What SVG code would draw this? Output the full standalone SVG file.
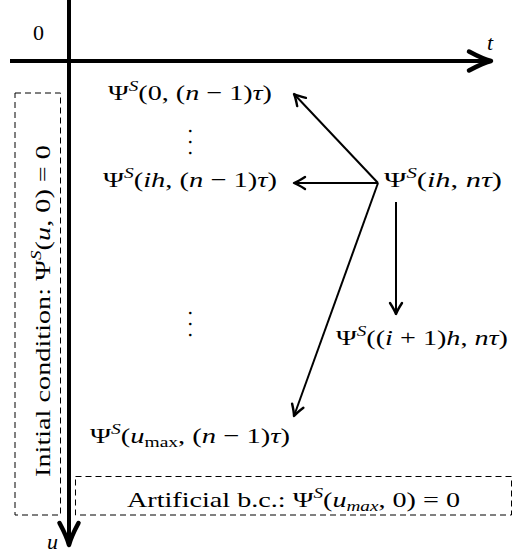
<svg xmlns="http://www.w3.org/2000/svg" width="514" height="557" viewBox="0 0 514 557">
<style>
text{font-family:"Liberation Serif","DejaVu Serif",serif;font-size:22px;fill:#000}
.i{font-style:italic}
.s{font-style:italic;font-size:15px}
.sub{font-size:15px}
.dots{letter-spacing:5.5px}
.ax{stroke:#000;stroke-width:4;fill:none}
.ar{stroke:#000;stroke-width:2;fill:none}
.box{stroke:#000;stroke-width:1;fill:none;stroke-dasharray:6 4}
</style>
<defs>
<marker id="big" markerUnits="userSpaceOnUse" viewBox="-25 -12 30 24" refX="0" refY="0" markerWidth="30" markerHeight="24" orient="auto" overflow="visible">
<path d="M-22,-9.5 Q-8,-2 0,0 Q-8,2 -22,9.5" fill="none" stroke="#000" stroke-width="4.5" stroke-linecap="round" stroke-linejoin="round"/>
</marker>
<marker id="sm" markerUnits="userSpaceOnUse" viewBox="-15 -10 20 20" refX="0" refY="0" markerWidth="20" markerHeight="20" orient="auto" overflow="visible">
<path d="M-11,-6 Q-4,-1.5 0,0 Q-4,1.5 -11,6" fill="none" stroke="#000" stroke-width="2.4" stroke-linecap="round" stroke-linejoin="round"/>
</marker>
</defs>
<g id="axes">
<line class="ax" x1="10" y1="61" x2="491" y2="61" marker-end="url(#big)"/>
<line class="ax" x1="69" y1="0" x2="69" y2="545" marker-end="url(#big)"/>
<text x="33" y="40">0</text>
<text class="i" x="487" y="50">t</text>
<text class="i" x="47" y="549">u</text>
</g>
<g id="initial-condition">
<rect class="box" x="15" y="93" width="45.5" height="422"/>
<text transform="translate(50,311) rotate(-90)" text-anchor="middle" textLength="332" lengthAdjust="spacingAndGlyphs">Initial condition: Ψ<tspan class="s" dy="-9">S</tspan><tspan dy="9">(</tspan><tspan class="i">u</tspan>, 0) = 0</text>
</g>
<g id="artificial-bc">
<rect class="box" x="75.5" y="476.5" width="436" height="38.5"/>
<text x="127" y="507" textLength="333" lengthAdjust="spacingAndGlyphs">Artificial b.c.: Ψ<tspan class="s" dy="-9">S</tspan><tspan dy="9">(</tspan><tspan class="i">u</tspan><tspan class="s" dy="4">max</tspan><tspan dy="-4">, 0) = 0</tspan></text>
</g>
<g id="node-0">
<text x="108" y="100" textLength="164" lengthAdjust="spacingAndGlyphs">Ψ<tspan class="s" dy="-9">S</tspan><tspan dy="9">(0, (</tspan><tspan class="i">n</tspan> − 1)<tspan class="i">τ</tspan>)</text>
</g>
<g id="dots-1">
<text class="dots" transform="translate(189,128.3) rotate(90)">...</text>
</g>
<g id="node-ih">
<text x="103" y="187" textLength="174" lengthAdjust="spacingAndGlyphs">Ψ<tspan class="s" dy="-9">S</tspan><tspan dy="9">(</tspan><tspan class="i">ih</tspan>, (<tspan class="i">n</tspan> − 1)<tspan class="i">τ</tspan>)</text>
</g>
<g id="node-current">
<text x="384" y="187" textLength="118" lengthAdjust="spacingAndGlyphs">Ψ<tspan class="s" dy="-9">S</tspan><tspan dy="9">(</tspan><tspan class="i">ih</tspan>, <tspan class="i">nτ</tspan>)</text>
</g>
<g id="node-next">
<text x="336" y="345" textLength="172" lengthAdjust="spacingAndGlyphs">Ψ<tspan class="s" dy="-9">S</tspan><tspan dy="9">((</tspan><tspan class="i">i</tspan> + 1)<tspan class="i">h</tspan>, <tspan class="i">nτ</tspan>)</text>
</g>
<g id="dots-2">
<text class="dots" transform="translate(189,310.3) rotate(90)">...</text>
</g>
<g id="node-umax">
<text x="90" y="443" textLength="200" lengthAdjust="spacingAndGlyphs">Ψ<tspan class="s" dy="-9">S</tspan><tspan dy="9">(</tspan><tspan class="i">u</tspan><tspan class="sub" dy="4">max</tspan><tspan dy="-4">, (</tspan><tspan class="i">n</tspan> − 1)<tspan class="i">τ</tspan>)</text>
</g>
<g id="connectors">
<line class="ar" x1="378" y1="183" x2="294" y2="94" marker-end="url(#sm)"/>
<line class="ar" x1="378" y1="183" x2="294" y2="183" marker-end="url(#sm)"/>
<line class="ar" x1="378" y1="183" x2="294" y2="416" marker-end="url(#sm)"/>
<line class="ar" x1="396" y1="202" x2="396" y2="314" marker-end="url(#sm)"/>
</g>
</svg>
